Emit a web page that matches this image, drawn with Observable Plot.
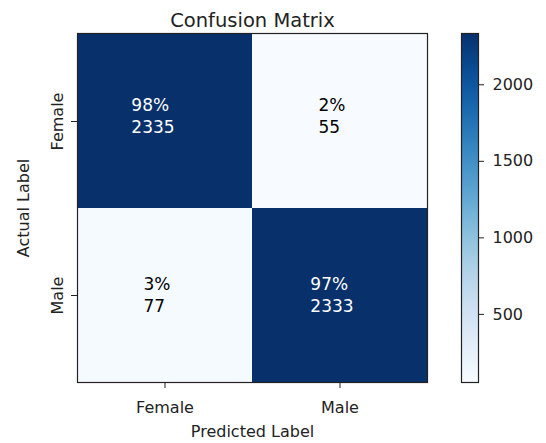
<!DOCTYPE html>
<html><head><meta charset="utf-8">
<script src="https://cdn.jsdelivr.net/npm/d3@7"></script>
<script src="https://cdn.jsdelivr.net/npm/@observablehq/plot@0.6"></script>
<style>
body{margin:0;background:#fff}
#wrap{position:relative;width:546px;height:443px;overflow:hidden}
#wrap svg{position:absolute;top:0}
</style></head><body><div id="wrap"></div>
<script>
// ---- data ----
const classes = ["Female", "Male"];
const actual = ["Female", "Female", "Male", "Male"];
const predicted = ["Female", "Male", "Female", "Male"];
const counts = [2335, 55, 77, 2333];
const colorTicks = [500, 1000, 1500, 2000];
const title = "Confusion Matrix";
const xLabel = "Predicted Label";
const yLabel = "Actual Label";

// ---- derived table ----
const rowTotals = {};
actual.forEach((a, i) => rowTotals[a] = (rowTotals[a] || 0) + counts[i]);
const data = counts.map((c, i) => ({
  actual: actual[i],
  predicted: predicted[i],
  count: c,
  label: Math.round(100 * c / rowTotals[actual[i]]) + "%\n" + c
}));
const [cmin, cmax] = d3.extent(counts);
const threshold = cmax / 2;
const color = {type: "linear", scheme: "blues", domain: [cmin, cmax]};
const font = "DejaVu Sans";
const cellFont = 17;

const ctx = document.createElement("canvas").getContext("2d");
ctx.font = `${cellFont}px '${font}'`;

const textMarks = data.map(d => {
  const w = Math.max(...d.label.split("\n").map(s => ctx.measureText(s).width));
  const top = d.actual === classes[0];
  return Plot.text([d], {
    x: "predicted", y: "actual", text: "label",
    textAnchor: "start", dx: -w / 2 - (top && d.count > threshold ? 12 : 8), dy: top ? -7 : -2,
    lineHeight: 1.3, fontSize: cellFont,
    fill: d.count > threshold ? "white" : "black"
  });
});

const main = Plot.plot({
  width: 440, height: 443,
  marginLeft: 77, marginRight: 13, marginTop: 33, marginBottom: 61,
  style: {fontFamily: font, fontSize: "16px", color: "#222", background: "transparent", overflow: "visible"},
  x: {type: "band", domain: classes, padding: 0},
  y: {type: "band", domain: classes, padding: 0},
  color,
  marks: [
    Plot.cell(data, {x: "predicted", y: "actual", fill: "count", inset: 0}),
    ...textMarks,
    Plot.frame({stroke: "#222", strokeWidth: 1.2}),
    Plot.axisX({anchor: "bottom", tickSize: 6, tickPadding: 13, label: xLabel, labelAnchor: "center", labelOffset: 54, labelArrow: "none"}),
    Plot.axisY({anchor: "left", tickSize: 6, tickPadding: 9, tickRotate: -90, label: yLabel, labelAnchor: "center", labelOffset: 60, labelArrow: "none"}),
    Plot.text([title], {frameAnchor: "top", dy: -20, fontSize: 19.5, fill: "#222"})
  ]
});

const nStops = 350;
const stops = d3.range(nStops).map(i => ({
  v0: cmin + (cmax - cmin) * i / nStops,
  v1: cmin + (cmax - cmin) * (i + 1.5) / nStops
}));

const bar = Plot.plot({
  width: 106, height: 443,
  marginLeft: 21, marginRight: 68, marginTop: 33, marginBottom: 61,
  style: {fontFamily: font, fontSize: "16px", color: "#222", background: "transparent", overflow: "visible"},
  x: {domain: [0, 1], axis: null},
  y: {domain: [cmin, cmax]},
  color,
  marks: [
    Plot.rect(stops, {x1: 0, x2: 1, y1: "v0", y2: d => Math.min(d.v1, cmax), fill: d => d.v0, shapeRendering: "crispEdges"}),
    Plot.frame({stroke: "#222", strokeWidth: 1.2}),
    Plot.axisY(colorTicks, {anchor: "right", tickSize: 5, tickPadding: 9, tickFormat: d => String(d), label: null})
  ]
});

const wrap = document.getElementById("wrap");
main.style.left = "0px";
bar.style.left = "440px";
wrap.appendChild(main);
wrap.appendChild(bar);
</script>
</body></html>
